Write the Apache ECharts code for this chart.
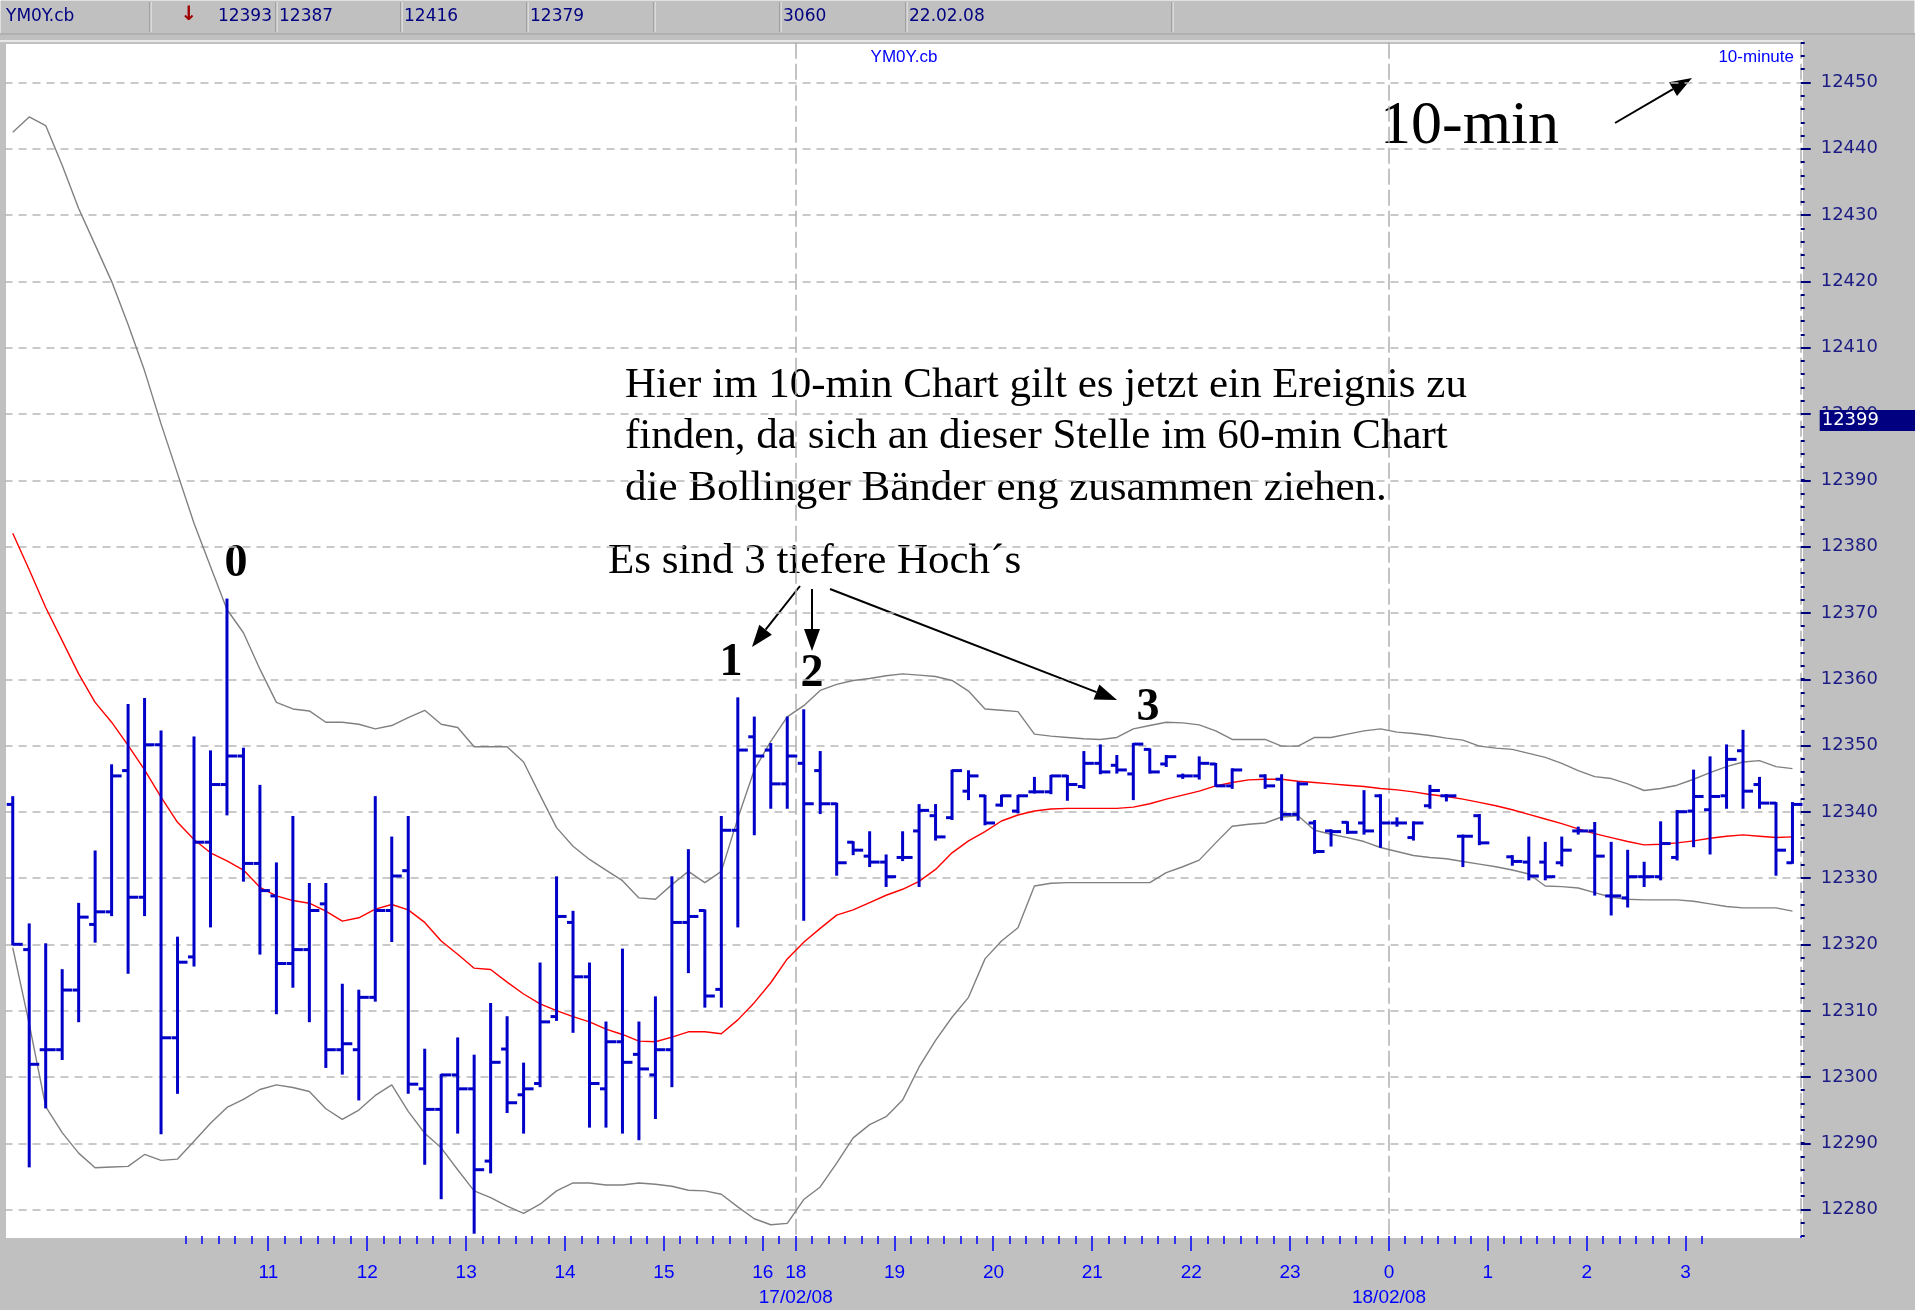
<!DOCTYPE html>
<html>
<head>
<meta charset="utf-8">
<script src="https://cdn.jsdelivr.net/npm/echarts@6/dist/echarts.min.js"></script>
<style>
  html, body { margin: 0; padding: 0; background: #c0c0c0; }
  #chart { width: 1915px; height: 1310px; }
</style>
</head>
<body>
<div id="chart"></div>
<script>
// 10-Minuten Bars YM0Y.cb
var times = [
  '08:20','08:30','08:40','08:50',
  '09:00','09:10','09:20','09:30','09:40','09:50',
  '10:00','10:10','10:20','10:30','10:40','10:50',
  '11:00','11:10','11:20','11:30','11:40','11:50',
  '12:00','12:10','12:20','12:30','12:40','12:50',
  '13:00','13:10','13:20','13:30','13:40','13:50',
  '14:00','14:10','14:20','14:30','14:40','14:50',
  '15:00','15:10','15:20','15:30','15:40','15:50',
  '16:00','16:10',
  '18:00','18:10','18:20','18:30','18:40','18:50',
  '19:00','19:10','19:20','19:30','19:40','19:50',
  '20:00','20:10','20:20','20:30','20:40','20:50',
  '21:00','21:10','21:20','21:30','21:40','21:50',
  '22:00','22:10','22:20','22:30','22:40','22:50',
  '23:00','23:10','23:20','23:30','23:40','23:50',
  '00:00','00:10','00:20','00:30','00:40','00:50',
  '01:00','01:10','01:20','01:30','01:40','01:50',
  '02:00','02:10','02:20','02:30','02:40','02:50',
  '03:00','03:10','03:20','03:30','03:40','03:50',
  '04:00'
];
var dateLabels = { '18:00': '17/02/08', '00:00': '18/02/08' };
var sessionLines = ['18:00', '00:00'];
var tickFrom = 11, tickTo = 103, labelFrom = 16;

var opens = [
  12341.1,12319.2,12304.1,12304.1,12313.1,12323.0,12324.9,12346.2,12327.1,12350.1,
  12305.9,12318.1,12335.4,12344.1,12348.4,12332.2,12327.3,12317.1,12319.2,12326.1,
  12304.1,12304.1,12312.0,12325.1,12331.1,12298.2,12295.1,12300.3,12298.2,12287.3,
  12304.2,12297.3,12299.0,12309.1,12323.3,12315.1,12298.2,12305.3,12303.4,12300.3,
  12304.1,12323.3,12325.1,12313.2,12337.2,12351.3,12349.3,12344.2,12347.3,12346.2,
  12341.2,12335.4,12333.3,12332.4,12333.1,12337.1,12339.4,12339.1,12343.1,12342.4,
  12341.0,12340.1,12343.0,12343.0,12345.4,12343.8,12347.3,12347.0,12345.7,12349.4,
  12347.2,12345.4,12345.4,12347.2,12343.9,null,12345.4,12344.9,12339.6,12338.3,
  12337.1,12338.4,12338.3,12342.4,12338.3,12336.1,12340.9,12342.4,12336.3,12339.4,
  null,12333.2,12332.4,12332.4,12332.3,12337.1,12337.1,12327.3,12327.0,12330.2,
  12330.2,12333.1,12340.1,12340.3,12342.4,12349.2,12344.1,12341.3,12332.3
];
var highs = [
  12342.2,12323.0,12320.0,12316.1,12326.1,12334.0,12347.0,12356.1,12357.0,12352.1,
  12321.0,12351.2,12349.1,12372.0,12349.5,12343.9,12332.2,12339.2,12329.1,12329.1,
  12313.9,12313.0,12342.2,12336.1,12339.2,12304.1,12300.3,12305.8,12303.2,12311.0,
  12309.0,12302.0,12317.1,12330.1,12324.9,12317.1,12308.2,12319.2,12308.2,12312.0,
  12330.1,12334.2,12325.1,12339.2,12357.1,12354.2,12350.2,12354.2,12355.3,12349.0,
  12341.2,12335.4,12336.9,12333.4,12336.9,12341.0,12341.0,12346.2,12346.1,12342.4,
  12342.4,12342.4,12345.1,12345.4,12345.4,12349.0,12350.0,12348.4,12350.2,12349.4,
  12348.4,12345.6,12348.2,12347.2,12346.4,null,12345.5,12345.5,12344.4,12338.6,
  12337.2,12338.4,12343.1,12342.5,12339.0,12338.4,12343.9,12342.5,12336.4,12339.5,
  null,12333.3,12336.1,12335.3,12336.1,12337.6,12338.3,12335.3,12334.1,12332.3,
  12338.4,12340.1,12346.2,12348.2,12350.0,12352.2,12345.1,12341.3,12341.3
];
var lows = [
  12320.0,12286.5,12295.4,12302.7,12308.4,12320.4,12324.4,12315.7,12324.4,12291.5,
  12297.6,12316.8,12322.7,12339.6,12329.6,12318.6,12309.6,12313.6,12308.4,12301.5,
  12300.5,12296.6,12311.5,12320.5,12297.6,12286.9,12281.7,12291.6,12276.5,12285.6,
  12294.7,12291.6,12298.6,12308.6,12306.8,12292.5,12292.5,12291.6,12290.6,12293.8,
  12298.6,12315.8,12310.6,12310.6,12322.7,12336.6,12340.6,12340.6,12323.7,12339.8,
  12330.5,12333.6,12331.8,12328.8,12332.7,12328.8,12335.8,12338.9,12341.9,12338.1,
  12340.9,12339.9,12342.9,12342.8,12341.8,12343.6,12345.8,12345.9,12341.9,12345.9,
  12346.9,12345.1,12345.0,12343.9,12343.6,null,12343.6,12338.8,12338.8,12333.8,
  12334.9,12336.8,12336.7,12334.7,12337.9,12335.8,12340.6,12341.7,12331.8,12335.1,
  null,12332.0,12329.8,12329.8,12331.9,12336.7,12327.5,12324.5,12325.7,12328.8,
  12329.8,12332.8,12334.8,12333.7,12340.6,12340.6,12340.6,12330.5,12332.3
];
var closes = [
  12320.0,12301.9,12304.1,12313.1,12324.1,12324.9,12345.4,12327.1,12350.1,12305.9,
  12317.3,12335.4,12344.1,12348.4,12332.2,12328.1,12317.1,12319.2,12325.1,12304.1,
  12305.0,12312.0,12325.1,12330.3,12298.9,12295.1,12300.3,12298.2,12286.0,12302.2,
  12296.1,12298.2,12308.3,12324.2,12315.1,12299.0,12305.3,12302.2,12301.2,12304.1,
  12323.3,12324.2,12312.2,12337.2,12349.3,12348.4,12344.2,12348.4,12341.2,12341.2,
  12332.3,12334.2,12332.4,12330.2,12333.1,12340.2,12336.2,12346.2,12345.4,12338.3,
  12342.4,12342.4,12343.0,12345.4,12344.1,12347.3,12346.0,12346.3,12350.2,12346.0,
  12348.3,12345.4,12347.3,12343.9,12346.3,null,12343.9,12339.6,12344.2,12334.0,
  12337.0,12336.9,12337.1,12338.3,12338.3,12338.3,12343.2,12342.4,12336.3,12335.3,
  null,12332.5,12330.3,12330.2,12334.2,12337.1,12333.3,12327.3,12330.2,12330.2,
  12335.2,12340.0,12342.3,12342.3,12347.9,12343.1,12341.3,12334.2,12341.1
];

// Bollinger Baender
var upperBand = [
  12442.5,12444.8,12443.5,12437.5,12431.0,12425.5,12420.0,12413.5,12406.5,12398.5,
  12391.0,12383.5,12377.0,12370.5,12367.0,12361.5,12356.5,12355.5,12355.2,12353.5,
  12353.5,12353.2,12352.5,12353.0,12354.2,12355.3,12353.2,12352.7,12349.8,12349.8,
  12349.8,12347.5,12342.5,12337.6,12334.8,12332.8,12331.2,12329.6,12327.0,12326.8,
  12329.0,12331.0,12329.3,12331.0,12339.0,12346.3,12350.6,12354.3,12356.0,12358.3,
  12359.2,12359.8,12360.1,12360.5,12360.8,12360.6,12360.4,12359.8,12358.2,12355.5,
  12355.3,12355.1,12351.7,12351.4,12351.2,12351.0,12350.9,12351.2,12352.5,12353.0,
  12353.5,12353.4,12353.1,12352.2,12350.9,12350.9,12350.9,12349.9,12349.9,12351.2,
  12351.2,12351.7,12352.2,12352.5,12352.0,12351.8,12351.5,12351.1,12350.8,12349.9,
  12349.6,12349.4,12348.8,12348.2,12347.3,12346.2,12345.3,12345.0,12344.2,12343.2,
  12343.5,12344.0,12344.9,12345.9,12346.8,12347.5,12347.7,12346.8,12346.5
];
var midBand = [
  12382.0,12376.5,12370.8,12365.8,12360.8,12356.5,12353.5,12350.0,12346.3,12342.2,
  12338.4,12335.8,12333.8,12332.6,12331.2,12328.6,12327.3,12326.6,12326.2,12325.0,
  12323.5,12324.0,12325.3,12326.0,12325.2,12323.3,12320.5,12318.5,12316.4,12316.2,
  12314.3,12312.5,12311.0,12310.0,12309.1,12308.3,12307.2,12306.4,12305.4,12305.3,
  12306.0,12306.8,12306.8,12306.5,12308.6,12311.2,12314.2,12317.8,12320.3,12322.4,
  12324.4,12325.2,12326.3,12327.4,12328.3,12329.5,12331.3,12333.8,12335.6,12337.0,
  12338.6,12339.5,12340.1,12340.4,12340.5,12340.5,12340.5,12340.5,12340.7,12341.2,
  12341.9,12342.5,12343.1,12343.9,12344.4,12344.8,12344.9,12344.9,12344.6,12344.4,
  12344.2,12344.0,12343.8,12343.5,12343.3,12343.0,12342.6,12342.3,12341.9,12341.4,
  12340.9,12340.3,12339.6,12338.9,12338.2,12337.4,12336.7,12336.1,12335.5,12335.0,
  12335.1,12335.3,12335.6,12336.0,12336.3,12336.5,12336.3,12336.1,12336.2
];
var lowerBand = [
  12319.5,12308.0,12295.5,12291.6,12288.5,12286.3,12286.4,12286.5,12288.3,12287.4,
  12287.6,12290.3,12293.0,12295.4,12296.6,12298.1,12298.8,12298.4,12297.8,12295.2,
  12293.6,12295.0,12297.2,12298.8,12294.8,12291.5,12289.3,12286.0,12282.8,12281.8,
  12280.5,12279.4,12280.8,12282.8,12284.0,12284.0,12283.7,12283.7,12284.0,12283.8,
  12283.5,12282.9,12282.8,12282.3,12280.4,12278.6,12277.7,12277.9,12281.5,12283.4,
  12287.0,12290.8,12292.8,12294.0,12296.5,12301.5,12305.5,12309.0,12312.0,12317.8,
  12320.5,12322.5,12328.8,12329.2,12329.3,12329.3,12329.3,12329.3,12329.3,12329.3,
  12330.8,12331.7,12332.7,12335.3,12337.8,12338.1,12338.3,12339.2,12339.4,12337.2,
  12336.6,12336.1,12335.5,12334.6,12334.0,12333.4,12333.1,12332.9,12332.5,12332.1,
  12331.7,12331.2,12330.6,12328.8,12328.7,12328.5,12327.8,12327.1,12326.8,12326.7,
  12326.7,12326.7,12326.5,12326.1,12325.7,12325.5,12325.5,12325.5,12325.0
];
var lastPrice = 12399;

var ohlc = [];
for (var i = 0; i < times.length; i++) {
  if (opens[i] == null) continue;
  ohlc.push([i, opens[i], highs[i], lows[i], closes[i]]);
}

function renderBar(params, api) {
  var x = api.value(0);
  var o = api.coord([x, api.value(1)]);
  var h = api.coord([x, api.value(2)]);
  var l = api.coord([x, api.value(3)]);
  var c = api.coord([x, api.value(4)]);
  var st = { stroke: '#0000c8', lineWidth: 3 };
  return {
    type: 'group',
    children: [
      { type: 'line', shape: { x1: h[0], y1: h[1] - 1, x2: l[0], y2: l[1] + 1 }, style: st },
      { type: 'line', shape: { x1: o[0] - 6, y1: o[1], x2: o[0], y2: o[1] }, style: st },
      { type: 'line', shape: { x1: c[0], y1: c[1], x2: c[0] + 10, y2: c[1] }, style: st }
    ]
  };
}

function hourLabel(value) {
  var hh = String(parseInt(value.slice(0, 2), 10));
  if (dateLabels[value]) return hh + '\n' + dateLabels[value];
  return hh;
}
function isHour(index, value) {
  return value != null && value.slice(3) === '00' && index >= labelFrom && index <= tickTo;
}

function arrow(x1, y1, x2, y2) {
  var a = Math.atan2(y2 - y1, x2 - x1), len = 22, w = 8;
  var bx = x2 - len * Math.cos(a), by = y2 - len * Math.sin(a);
  return {
    type: 'group',
    children: [
      { type: 'line', shape: { x1: x1, y1: y1, x2: bx, y2: by }, style: { stroke: '#000', lineWidth: 2 } },
      { type: 'polygon', shape: { points: [[x2, y2],
          [bx + w * Math.sin(a), by - w * Math.cos(a)],
          [bx - w * Math.sin(a), by + w * Math.cos(a)]] }, style: { fill: '#000' } }
    ]
  };
}

var serif = 'Liberation Serif, Times New Roman, serif';
var headTxt = { fill: '#000080', font: '17px DejaVu Sans', textVerticalAlign: 'middle' };
function headText(x, t, align) {
  return { type: 'text', x: x, y: 17, style: Object.assign({ text: t, textAlign: align || 'left' }, headTxt) };
}

var myChart = echarts.init(document.getElementById('chart'));

var option = {
  backgroundColor: '#c0c0c0',
  animation: false,
  grid: [
    { left: 4.5, width: 1796.2, top: 82.5, height: 1127.3 },
    { left: 4.5, width: 1796.2, top: 42.7, height: 1193.6 }
  ],
  xAxis: [
    { type: 'category', gridIndex: 0, data: times, show: false },
    { type: 'category', gridIndex: 1, data: times, position: 'bottom',
      axisLine: { show: true, lineStyle: { color: 'rgba(0,0,0,0)' } },
      axisLabel: { show: false },
      axisTick: { show: true, alignWithLabel: false, length: 8, lineStyle: { color: '#0000ff', width: 1.5 },
        interval: function (index) { return index >= tickFrom && index <= tickTo; } },
      splitLine: { show: true, lineStyle: { color: '#b0b0b0', type: [16, 5], width: 1.5 },
        interval: function (index, value) { return sessionLines.indexOf(value) >= 0; } }
    },
    { type: 'category', gridIndex: 1, data: times, position: 'bottom',
      axisLine: { show: true, lineStyle: { color: 'rgba(0,0,0,0)' } },
      axisTick: { show: true, alignWithLabel: false, length: 15, lineStyle: { color: '#0000ff', width: 1.5 },
        interval: isHour },
      axisLabel: { interval: isHour, formatter: hourLabel, color: '#0000ff', fontSize: 19,
        fontFamily: 'Liberation Sans, Arial', lineHeight: 25, margin: 24, padding: [0, 16, 0, 0] },
      splitLine: { show: false }
    }
  ],
  yAxis: [
    { type: 'value', gridIndex: 0, position: 'right', min: 12280, max: 12450, interval: 10,
      axisLine: { show: false },
      axisTick: { show: true, length: 10, lineStyle: { color: '#00007a', width: 2 } },
      axisLabel: { color: '#1c1c84', fontSize: 18, fontFamily: 'DejaVu Sans', margin: 20,
        padding: [0, 0, 16, 0], formatter: function (v) { return String(v); } },
      splitLine: { show: true, lineStyle: { color: '#b8b8b8', type: [8, 6], width: 1.5 } }
    },
    { type: 'value', gridIndex: 1, position: 'right', min: 12276, max: 12456, interval: 2,
      axisLine: { show: false },
      axisTick: { show: true, length: 4, lineStyle: { color: '#00007a', width: 2 } },
      axisLabel: { show: false },
      splitLine: { show: false }
    }
  ],
  series: [
    { name: 'upper', type: 'line', xAxisIndex: 1, yAxisIndex: 1, data: upperBand,
      showSymbol: false, lineStyle: { color: '#808080', width: 1.4 }, z: 2 },
    { name: 'lower', type: 'line', xAxisIndex: 1, yAxisIndex: 1, data: lowerBand,
      showSymbol: false, lineStyle: { color: '#808080', width: 1.4 }, z: 2 },
    { name: 'mid', type: 'line', xAxisIndex: 1, yAxisIndex: 1, data: midBand,
      showSymbol: false, lineStyle: { color: '#ff0000', width: 1.4 }, z: 3,
      markLine: { silent: true, symbol: 'none', z: 10,
        lineStyle: { color: 'rgba(0,0,0,0)', width: 1, type: 'solid' },
        label: { show: true, position: 'end', formatter: String(lastPrice), color: '#ffffff',
          backgroundColor: '#000080', fontSize: 18, fontFamily: 'DejaVu Sans',
          padding: [2, 40, 1, 2], distance: 19 },
        data: [{ yAxis: lastPrice }] }
    },
    { name: 'YM0Y.cb', type: 'custom', xAxisIndex: 1, yAxisIndex: 1, data: ohlc,
      renderItem: renderBar, encode: { x: 0, y: [1, 2, 3, 4] }, z: 5 }
  ],
  graphic: [
    { type: 'rect', z: -10, shape: { x: 6, y: 44, width: 1797, height: 1194 }, style: { fill: '#ffffff' } },
    // Endstrich der Zeitachse abdecken
    { type: 'rect', z: 100, shape: { x: 1796, y: 1238, width: 9, height: 20 }, style: { fill: '#c0c0c0' } },
    // Kopfzeile
    { type: 'rect', shape: { x: 0, y: 0, width: 1915, height: 34 }, style: { fill: '#c0c0c0', stroke: '#ffffff', lineWidth: 1 } },
    { type: 'line', shape: { x1: 0, y1: 34, x2: 1915, y2: 34 }, style: { stroke: '#808080', lineWidth: 1 } },
    { type: 'line', shape: { x1: 0, y1: 41, x2: 1803, y2: 41 }, style: { stroke: '#e8e8e8', lineWidth: 2 } },
    { type: 'group', children: [150, 276, 401, 527, 654, 780, 906, 1172].map(function (x) {
        return { type: 'group', children: [
          { type: 'line', shape: { x1: x, y1: 2, x2: x, y2: 32 }, style: { stroke: '#808080', lineWidth: 1 } },
          { type: 'line', shape: { x1: x + 1, y1: 2, x2: x + 1, y2: 32 }, style: { stroke: '#f4f4f4', lineWidth: 1 } }
        ] };
      }) },
    headText(6, 'YM0Y.cb'),
    { type: 'text', x: 189, y: 15, style: { text: '↓', fill: '#a00000', font: 'bold 20px DejaVu Sans', textAlign: 'center', textVerticalAlign: 'middle' } },
    headText(272, '12393', 'right'),
    headText(279, '12387'),
    headText(404, '12416'),
    headText(530, '12379'),
    headText(783, '3060'),
    headText(909, '22.02.08'),
    // Titel im Chart
    { type: 'text', x: 904, y: 57, style: { text: 'YM0Y.cb', fill: '#0000ff', font: '17px Liberation Sans', textAlign: 'center', textVerticalAlign: 'middle' } },
    { type: 'text', x: 1794, y: 57, style: { text: '10-minute', fill: '#0000ff', font: '17px Liberation Sans', textAlign: 'right', textVerticalAlign: 'middle' } },
    // Anmerkungen
    { type: 'text', x: 1380, y: 127, style: { text: '10-min', fill: '#000', font: '62px ' + serif, textVerticalAlign: 'middle' } },
    arrow(1615, 123, 1692, 78),
    { type: 'text', x: 625, y: 386, style: { text: 'Hier im 10-min Chart gilt es jetzt ein Ereignis zu', fill: '#000', font: '43px ' + serif, textVerticalAlign: 'middle' } },
    { type: 'text', x: 625, y: 437, style: { text: 'finden, da sich an dieser Stelle im 60-min Chart', fill: '#000', font: '43px ' + serif, textVerticalAlign: 'middle' } },
    { type: 'text', x: 625, y: 489, style: { text: 'die Bollinger Bänder eng zusammen ziehen.', fill: '#000', font: '43px ' + serif, textVerticalAlign: 'middle' } },
    { type: 'text', x: 608, y: 562, style: { text: 'Es sind 3 tiefere Hoch´s', fill: '#000', font: '43px ' + serif, textVerticalAlign: 'middle' } },
    arrow(800, 586, 752, 647),
    arrow(812, 589, 812, 651),
    arrow(830, 589, 1117, 700),
    { type: 'text', x: 236, y: 564, style: { text: '0', fill: '#000', font: 'bold 46px ' + serif, textAlign: 'center', textVerticalAlign: 'middle' } },
    { type: 'text', x: 731, y: 663, style: { text: '1', fill: '#000', font: 'bold 46px ' + serif, textAlign: 'center', textVerticalAlign: 'middle' } },
    { type: 'text', x: 812, y: 674, style: { text: '2', fill: '#000', font: 'bold 46px ' + serif, textAlign: 'center', textVerticalAlign: 'middle' } },
    { type: 'text', x: 1148, y: 708, style: { text: '3', fill: '#000', font: 'bold 46px ' + serif, textAlign: 'center', textVerticalAlign: 'middle' } }
  ]
};

if (option && typeof option === "object") {
  myChart.setOption(option, true);
}
</script>
</body>
</html>
